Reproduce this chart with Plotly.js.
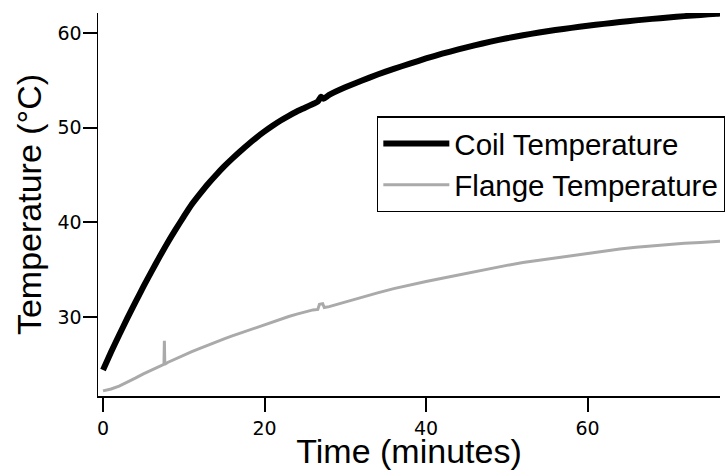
<!DOCTYPE html>
<html>
<head>
<meta charset="utf-8">
<script src="https://cdn.plot.ly/plotly-3.0.1.min.js"></script>
<style>html,body{margin:0;padding:0;background:#fff;}#chart{width:725px;height:470px;}</style>
</head>
<body>
<div id="chart"></div>
<script>
var coilTime = [0,1,2,3,4,5,6,7,8,9,10,11,12,13,14,15,16,17,18,19,20,21,22,23,24,25,26,26.6,27.0,27.3,28,30,32,34,36,38,40,42,44,46,48,50,52,54,56,58,60,62,64,66,68,70,72,74,76,76.4];
var coilTemp = [24.4,26.3,28.1,29.85,31.55,33.2,34.8,36.35,37.85,39.25,40.6,41.9,43.0,44.05,45.0,45.9,46.72,47.5,48.25,48.95,49.6,50.2,50.75,51.25,51.7,52.1,52.5,52.75,53.25,53.05,53.45,54.25,54.95,55.6,56.2,56.75,57.3,57.8,58.25,58.68,59.08,59.43,59.75,60.04,60.3,60.53,60.75,60.95,61.14,61.32,61.48,61.63,61.77,61.9,62.02,62.05];

var flangeTime = [0,1,2,3,4,5,6,7,7.55,7.6,7.65,8,9,10,11,12,13,14,15,16,17,18,19,20,21,22,23,24,25,26,26.6,26.8,27.2,27.4,28,30,32,34,36,38,40,42,44,46,48,50,52,54,56,58,60,62,64,66,68,70,72,74,76,76.4];
var flangeTemp = [22.2,22.4,22.7,23.1,23.55,24.0,24.4,24.8,25.0,27.5,25.0,25.2,25.6,26.0,26.35,26.7,27.05,27.4,27.7,28.0,28.3,28.6,28.9,29.15,29.45,29.75,30.05,30.3,30.55,30.75,30.8,31.35,31.4,31.0,31.1,31.6,32.1,32.55,33.0,33.4,33.75,34.1,34.45,34.8,35.1,35.45,35.75,36.0,36.25,36.5,36.75,36.98,37.18,37.36,37.52,37.66,37.78,37.88,37.97,38.0];

var seriesNames = ['Coil Temperature', 'Flange Temperature'];
var xTicks = [0, 20, 40, 60];
var yTicks = [30, 40, 50, 60];

var traces = [
  {x: coilTime, y: coilTemp, type: 'scatter', mode: 'lines', name: seriesNames[0],
   line: {color: '#000000', width: 6, shape: 'spline', smoothing: 0.6}},
  {x: flangeTime, y: flangeTemp, type: 'scatter', mode: 'lines', name: seriesNames[1],
   line: {color: '#aaaaaa', width: 3}}
];

var tickFont = {family: 'DejaVu Sans', size: 19, color: '#000'};
var titleFont = {family: 'Liberation Sans, Arial, Helvetica, sans-serif', size: 34, color: '#000'};

var layout = {
  width: 725, height: 470,
  margin: {l: 98, r: 5, t: 13, b: 74, autoexpand: false},
  paper_bgcolor: '#fff', plot_bgcolor: '#fff',
  showlegend: true,
  legend: {
    x: 0.4486, y: 0.73, xanchor: 'left', yanchor: 'top',
    bordercolor: '#000', borderwidth: 1.3, bgcolor: '#fff',
    font: {family: 'Liberation Sans, Arial, Helvetica, sans-serif', size: 29.5, color: '#000'},
    itemwidth: 66, tracegroupgap: 0
  },
  xaxis: {
    range: [-0.62, 76.4], tickvals: xTicks, ticktext: xTicks.map(String),
    showline: true, linecolor: '#000', linewidth: 1.5, mirror: false,
    ticks: 'outside', ticklen: 14, tickwidth: 2, tickcolor: '#000',
    showgrid: false, zeroline: false, tickfont: tickFont, ticklabelstandoff: 1,
    title: {text: 'Time (minutes)', font: titleFont, standoff: 3}
  },
  yaxis: {
    range: [21.66, 62.1], tickvals: yTicks, ticktext: yTicks.map(String),
    showline: true, linecolor: '#000', linewidth: 1.5, mirror: false,
    ticks: 'outside', ticklen: 14, tickwidth: 2, tickcolor: '#000',
    showgrid: false, zeroline: false, tickfont: tickFont, ticklabelstandoff: -3,
    title: {text: 'Temperature (°C)', font: titleFont, standoff: 5}
  }
};

Plotly.newPlot('chart', traces, layout, {displayModeBar: false, staticPlot: true});
</script>
</body>
</html>
